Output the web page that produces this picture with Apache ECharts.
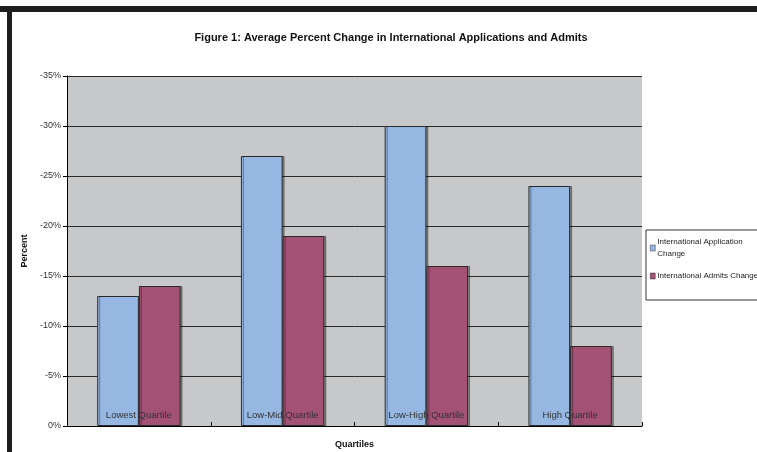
<!DOCTYPE html>
<html>
<head>
<meta charset="utf-8">
<script src="https://cdn.jsdelivr.net/npm/echarts@6/dist/echarts.min.js"></script>
<style>
  html, body { margin: 0; padding: 0; background: #fff; }
  #chart { width: 757px; height: 452px; }
</style>
</head>
<body>
<div id="chart"></div>
<script>
// Quartile groups and the average percent change for each
const categories = ['Lowest Quartile', 'Low-Mid Quartile', 'Low-High Quartile', 'High Quartile'];
const applicationChange = [-13, -27, -30, -24];
const admitsChange = [-14, -19, -16, -8];
const seriesNames = ['International Application Change', 'International Admits Change'];
const yTicks = { min: -35, max: 0, interval: 5 };

const chart = echarts.init(document.getElementById('chart'), null, { renderer: 'canvas' });

const barStyle = (color) => ({
  color: color,
  borderColor: '#2a2a2a',
  borderWidth: 1,
  shadowColor: 'rgba(0,0,0,0.35)',
  shadowOffsetX: 2,
  shadowOffsetY: 0,
  shadowBlur: 0
});

chart.setOption({
  backgroundColor: '#ffffff',
  animation: false,
  textStyle: { fontFamily: 'Liberation Sans, Arial, sans-serif' },
  title: {
    text: 'Figure 1: Average Percent Change in International Applications and Admits',
    left: 386,
    top: 27,
    textAlign: 'center',
    textStyle: { fontSize: 11, fontWeight: 'bold', color: '#111' }
  },
  graphic: [
    { type: 'rect', shape: { x: 0, y: 6, width: 757, height: 6 }, style: { fill: '#1e1e1e' }, z: 100 },
    { type: 'rect', shape: { x: 7, y: 6, width: 5, height: 446 }, style: { fill: '#1e1e1e' }, z: 100 }
  ],
  legend: {
    orient: 'vertical',
    left: 646,
    top: 230,
    itemWidth: 5,
    itemHeight: 6,
    itemGap: 10,
    padding: [6, 30, 18, 4],
    borderColor: '#333',
    borderWidth: 1,
    icon: 'rect',
    data: seriesNames,
    formatter: (name) => name === seriesNames[0] ? 'International Application\nChange' : name,
    textStyle: { fontSize: 8, color: '#222', lineHeight: 12, padding: [0, 0, 0, -3] },
    itemStyle: { borderColor: '#333', borderWidth: 0.5 }
  },
  grid: { left: 67, top: 76, width: 575, height: 350, containLabel: false,
          outerBoundsMode: 'none',
          show: true, backgroundColor: '#c7c8ca', borderWidth: 0 },
  xAxis: {
    type: 'category',
    data: categories,
    z: 10,
    name: 'Quartiles',
    nameLocation: 'middle',
    nameGap: 14,
    nameTextStyle: { fontSize: 9, fontWeight: 'bold', color: '#111' },
    axisLine: { lineStyle: { color: '#000', width: 1 } },
    axisTick: { show: true, inside: true, length: 4, lineStyle: { color: '#000' } },
    axisLabel: { inside: true, margin: 6, fontSize: 9.5, color: '#333' },
    splitLine: { show: false }
  },
  yAxis: {
    type: 'value',
    inverse: true,
    min: yTicks.min,
    max: yTicks.max,
    interval: yTicks.interval,
    name: 'Percent',
    nameLocation: 'middle',
    nameGap: 35,
    nameRotate: 90,
    nameTextStyle: { fontSize: 9, fontWeight: 'bold', color: '#111' },
    axisLine: { show: true, lineStyle: { color: '#000', width: 1 } },
    axisTick: { show: true, length: 4, lineStyle: { color: '#000' } },
    axisLabel: { formatter: (v) => v + '%', fontSize: 9, color: '#333', margin: 6 },
    splitLine: { show: true, lineStyle: { color: '#2b2b2b', width: 1 } }
  },
  series: [
    {
      name: seriesNames[0],
      type: 'bar',
      data: applicationChange,
      barGap: '0%',
      barCategoryGap: '42%',
      itemStyle: barStyle('#95b7e1')
    },
    {
      name: seriesNames[1],
      type: 'bar',
      data: admitsChange,
      itemStyle: barStyle('#a35174')
    }
  ]
});
</script>
</body>
</html>
